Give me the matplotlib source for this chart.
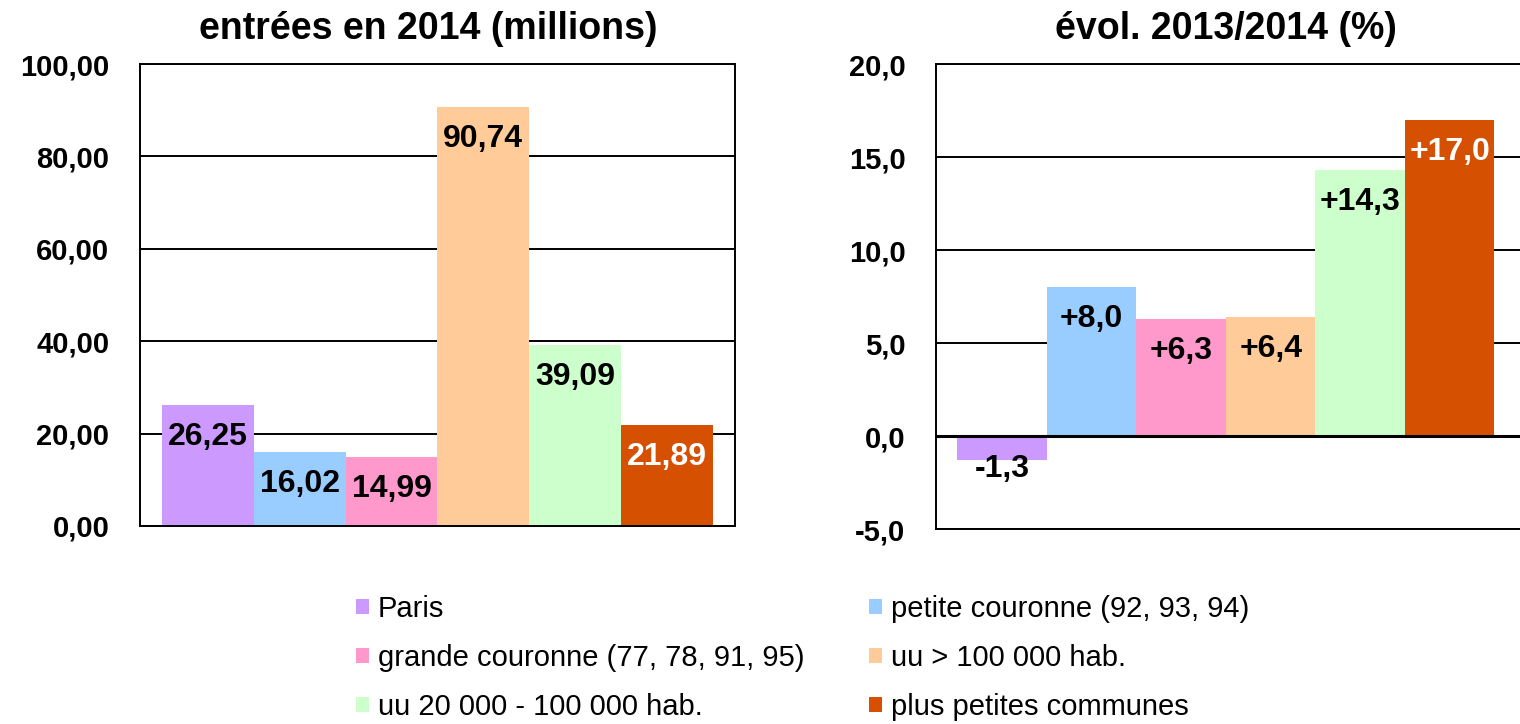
import matplotlib.pyplot as plt
from matplotlib.patches import Patch

plt.rcParams['font.family'] = ['Liberation Sans', 'DejaVu Sans']

categories = ["Paris", "petite couronne (92, 93, 94)", "grande couronne (77, 78, 91, 95)",
              "uu > 100 000 hab.", "uu 20 000 - 100 000 hab.", "plus petites communes"]
colors = ["#CC99FF", "#99CCFF", "#FF99CC", "#FFCC99", "#CCFFCC", "#D55000"]
entrees = [26.25, 16.02, 14.99, 90.74, 39.09, 21.89]
evol = [-1.3, 8.0, 6.3, 6.4, 14.3, 17.0]
label_colors = ["black", "black", "black", "black", "black", "white"]

fig = plt.figure(figsize=(15.2, 7.24), dpi=100)
fig.patch.set_facecolor("white")

ax1 = fig.add_axes([0.0921, 0.2735, 0.3914, 0.638])
ax2 = fig.add_axes([0.6158, 0.2693, 0.385, 0.642])

x = range(len(categories))

def style_axis(ax, ticks, fmt):
    ax.set_yticks(ticks)
    ax.set_yticklabels([fmt(t) for t in ticks], fontsize=21, fontweight="bold")
    ax.set_xticks([])
    ax.tick_params(axis="y", length=0, pad=22)
    for t in ticks:
        ax.axhline(t, color="black", lw=1.4, zorder=1)
    for s in ax.spines.values():
        s.set_color("black")
        s.set_linewidth(1.4)

# left chart
ax1.bar(x, entrees, width=1.0, color=colors, zorder=2)
ax1.set_xlim(-0.74, 5.74)
ax1.set_ylim(0, 100)
style_axis(ax1, [0, 20, 40, 60, 80, 100], lambda v: f"{v:.2f}".replace(".", ","))
ax1.set_title("entrées en 2014 (millions)", fontsize=27, fontweight="bold", pad=18, x=0.485)
for i, v in enumerate(entrees):
    ax1.annotate(f"{v:.2f}".replace(".", ","), (i, v), xytext=(0, -23),
                 textcoords="offset points", ha="center", va="center",
                 fontsize=23, fontweight="bold", color=label_colors[i], zorder=3)

# right chart
ax2.bar(x, evol, width=1.0, color=colors, zorder=2)
ax2.set_xlim(-0.74, 5.8)
ax2.set_ylim(-5, 20)
style_axis(ax2, [-5, 0, 5, 10, 15, 20], lambda v: f"{v:.1f}".replace(".", ","))
ax2.axhline(0, color="black", lw=2.2, zorder=3)
ax2.set_title("évol. 2013/2014 (%)", fontsize=27, fontweight="bold", pad=18, x=0.495)
for i, v in enumerate(evol):
    txt = (f"+{v:.1f}" if v > 0 else f"{v:.1f}").replace(".", ",")
    off = -23 if v > 0 else -6
    ax2.annotate(txt, (i, v), xytext=(0, off), textcoords="offset points",
                 ha="center", va="center", fontsize=23, fontweight="bold",
                 color=label_colors[i], zorder=4)

# legend, filled row by row
order = [0, 2, 4, 1, 3, 5]
handles = [Patch(facecolor=colors[k], edgecolor="none") for k in order]
labels = [categories[k] for k in order]
fig.legend(handles, labels, ncol=2, loc="lower center", bbox_to_anchor=(0.528, -0.032),
           frameon=False, fontsize=21, handlelength=0.45, handleheight=0.45,
           handletextpad=0.3, columnspacing=2.2, labelspacing=0.72)

fig.savefig("out.png", dpi=100, facecolor=fig.get_facecolor())
